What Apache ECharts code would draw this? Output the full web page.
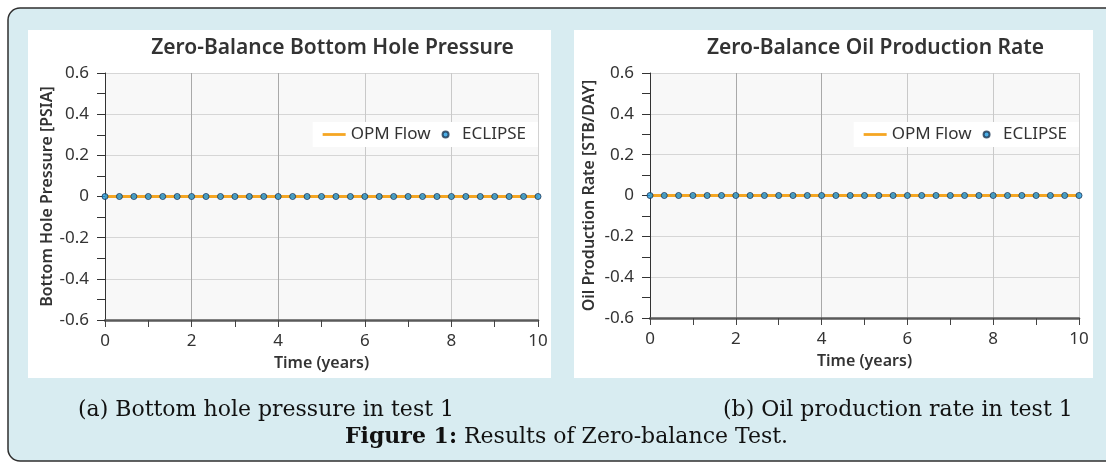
<!DOCTYPE html>
<html>
<head>
<meta charset="utf-8">
<script src="https://cdn.jsdelivr.net/npm/echarts@6/dist/echarts.min.js"></script>
<style>
  html, body { margin: 0; padding: 0; background: #fff; }
  #chart { width: 1106px; height: 464px; }
</style>
</head>
<body>
<div id="chart"></div>
<script>
// ECLIPSE report times (years), one every 4 months
const eclipseTimes = [0, 0.333, 0.667, 1, 1.333, 1.667, 2, 2.333, 2.667, 3, 3.333, 3.667, 4, 4.333, 4.667,
  5, 5.333, 5.667, 6, 6.333, 6.667, 7, 7.333, 7.667, 8, 8.333, 8.667, 9, 9.333, 9.667, 10]
const eclipseBhp = [0, 0, 0, 0, 0, 0, 0, 0, 0, 0, 0, 0, 0, 0, 0, 0, 0, 0, 0, 0, 0, 0, 0, 0, 0, 0, 0, 0, 0, 0, 0]
const eclipseOil = [0, 0, 0, 0, 0, 0, 0, 0, 0, 0, 0, 0, 0, 0, 0, 0, 0, 0, 0, 0, 0, 0, 0, 0, 0, 0, 0, 0, 0, 0, 0]

const flowTimes = [0, 1, 2, 3, 4, 5, 6, 7, 8, 9, 10]
const flowBhp = [0, 0, 0, 0, 0, 0, 0, 0, 0, 0, 0]
const flowOil = [0, 0, 0, 0, 0, 0, 0, 0, 0, 0, 0]

const xTicks = { min: 0, max: 10, interval: 2 }
const yTicks = { min: -0.6, max: 0.6, interval: 0.2 }

const panelTitles = ["Zero-Balance Bottom Hole Pressure", "Zero-Balance Oil Production Rate"]
const yNames = ["Bottom Hole Pressure [PSIA]", "Oil Production Rate [STB/DAY]"]
const captions = ["(a) Bottom hole pressure in test 1", "(b) Oil production rate in test 1"]

const font = "Noto Sans"
const serif = "DejaVu Serif"
const ink = "#333"
const orange = "#f5a623"

const grids = [
  { left: 105, top: 73, width: 433, height: 247 },
  { left: 650, top: 73, width: 429, height: 245 }
]

const chart = echarts.init(document.getElementById("chart"), null, { renderer: "canvas" })

function xAxis(i) {
  return {
    type: "value",
    gridIndex: i,
    ...xTicks,
    name: "Time (years)",
    nameLocation: "middle",
    nameGap: 35,
    nameTextStyle: { color: ink, fontFamily: font, fontSize: 16, fontWeight: 600 },
    axisLine: { show: true, onZero: false, lineStyle: { color: "#5a5a5a", width: 2.5 } },
    axisTick: { show: true, length: 7, lineStyle: { color: "#444" } },
    minorTick: { show: true, splitNumber: 2, length: 7, lineStyle: { color: "#444" } },
    axisLabel: { color: ink, fontFamily: font, fontSize: 17, margin: 13 },
    splitLine: { show: true, lineStyle: { color: ["#bbb", "#a9a9a9", "#a9a9a9", "#c9c9c9", "#c9c9c9", "#d2d2d2"], width: 1 } }
  }
}

function yAxis(i, gap) {
  return {
    type: "value",
    gridIndex: i,
    ...yTicks,
    name: yNames[i],
    nameLocation: "middle",
    nameGap: gap,
    nameTextStyle: { color: ink, fontFamily: font, fontSize: 16, fontWeight: 600 },
    axisLine: { show: true, onZero: false, lineStyle: { color: "#333", width: 1 } },
    axisTick: { show: true, length: 8, lineStyle: { color: "#333" } },
    minorTick: { show: true, splitNumber: 2, length: 8, lineStyle: { color: "#333" } },
    axisLabel: { color: ink, fontFamily: font, fontSize: 17, margin: 16 },
    splitLine: { show: true, lineStyle: { color: "#d6d6d6", width: 1 } }
  }
}

function legend(right) {
  return {
    right,
    top: 122,
    orient: "horizontal",
    backgroundColor: "#fff",
    padding: [4, 12, 4, 10],
    itemWidth: 23,
    itemHeight: 6,
    itemGap: 11,
    textStyle: { color: ink, fontFamily: font, fontSize: 17 },
    data: [
      { name: "OPM Flow", icon: "path://M0,0 L23,0 L23,2.8 L0,2.8 Z", itemStyle: { color: orange } },
      { name: "ECLIPSE", icon: "circle" }
    ]
  }
}

function flowSeries(i, values) {
  return {
    name: "OPM Flow",
    type: "line",
    xAxisIndex: i,
    yAxisIndex: i,
    data: flowTimes.map((t, k) => [t, values[k]]),
    showSymbol: false,
    lineStyle: { color: orange, width: 3 },
    itemStyle: { color: orange },
    z: 3
  }
}

function eclipseSeries(i, values) {
  return {
    name: "ECLIPSE",
    type: "scatter",
    xAxisIndex: i,
    yAxisIndex: i,
    data: eclipseTimes.map((t, k) => [t, values[k]]),
    symbol: "circle",
    symbolSize: 6,
    itemStyle: { color: "#1f9ae0", borderColor: "#1b3550", borderWidth: 1 },
    z: 4
  }
}

const background = [
  {
    type: "rect", z: -20, silent: true,
    shape: { x: 8, y: 8, width: 1130, height: 453, r: 12 },
    style: { fill: "#d8ecf1", stroke: "#2f2f2f", lineWidth: 1.5 }
  },
  { type: "rect", z: -10, silent: true, shape: { x: 28, y: 30, width: 523, height: 348 }, style: { fill: "#fff" } },
  { type: "rect", z: -10, silent: true, shape: { x: 574, y: 30, width: 519, height: 348 }, style: { fill: "#fff" } },
  {
    type: "text", silent: true, left: 78, top: 399,
    style: { text: captions[0], fill: "#111", font: `22px '${serif}'` }
  },
  {
    type: "text", silent: true, left: 723, top: 399,
    style: { text: captions[1], fill: "#111", font: `22px '${serif}'` }
  },
  {
    type: "text", silent: true, left: 345, top: 426,
    style: {
      text: "{b|Figure 1:} Results of Zero-balance Test.",
      fill: "#111",
      font: `22px '${serif}'`,
      rich: { b: { fontWeight: "bold", fontFamily: serif, fontSize: 22, fill: "#111" } }
    }
  }
]

chart.setOption({
  animation: false,
  backgroundColor: "#fff",
  title: panelTitles.map((text, i) => ({
    text,
    left: grids[i].left + grids[i].width / 2 + 6,
    top: 33,
    textAlign: "center",
    textStyle: { color: ink, fontFamily: font, fontSize: 21, fontWeight: 600 }
  })),
  legend: [legend(1106 - 538), legend(1106 - 1079)],
  grid: grids.map((g) => ({ ...g, show: true, backgroundColor: "#f8f8f8", borderWidth: 0 })),
  xAxis: [xAxis(0), xAxis(1)],
  yAxis: [yAxis(0, 49), yAxis(1, 53)],
  graphic: background,
  series: [
    flowSeries(0, flowBhp),
    eclipseSeries(0, eclipseBhp),
    flowSeries(1, flowOil),
    eclipseSeries(1, eclipseOil)
  ]
})
</script>
</body>
</html>
